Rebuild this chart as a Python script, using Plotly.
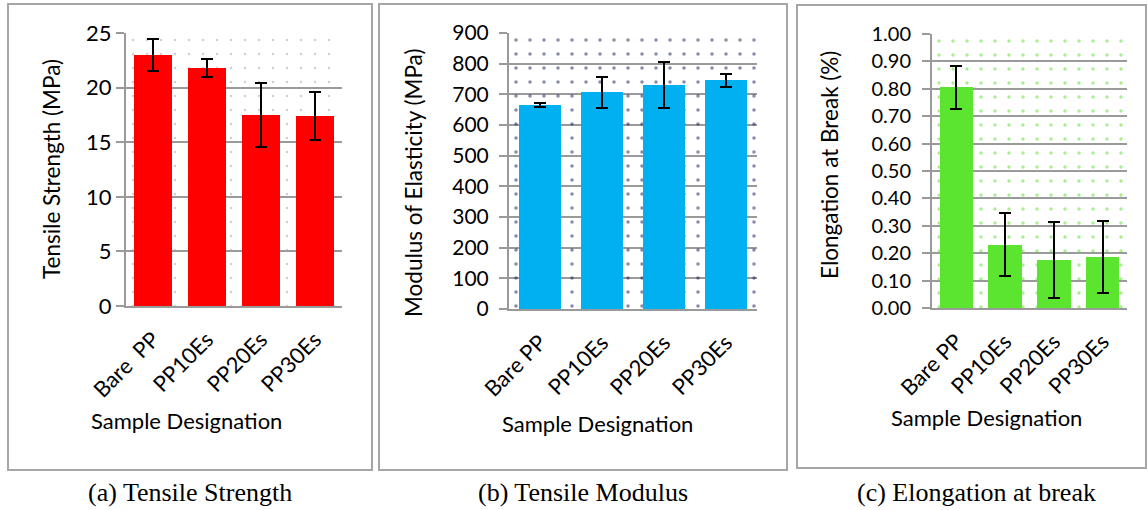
import plotly.graph_objects as go

W, H = 1147, 510

categories = ["Bare  PP", "PP10Es", "PP20Es", "PP30Es"]
categories_b = ["Bare PP", "PP10Es", "PP20Es", "PP30Es"]

tensile_strength = [23.0, 21.8, 17.5, 17.4]
tensile_strength_err = [1.45, 0.8, 2.9, 2.2]

modulus = [665, 707, 730, 746]
modulus_err = [6, 50, 76, 21]

elongation = [0.805, 0.230, 0.176, 0.186]
elongation_err = [0.080, 0.115, 0.138, 0.132]

y_max = [25, 900, 1.0]
y_dtick = [5, 100, 0.1]
y_titles = ["Tensile Strength (MPa)", "Modulus of Elasticity (MPa)", "Elongation at Break (%)"]
x_title = "Sample Designation"
captions = ["(a) Tensile Strength", "(b) Tensile Modulus", "(c) Elongation at break"]

bar_colors = ["#FF0000", "#00B0F0", "#5BE52F"]
dot_colors = ["#A0A0A0", "#0A1650", "#4FE01F"]
dot_solidity = [0.025, 0.05, 0.045]

def px_x(v):
    return v / W

def px_y(v):
    return 1 - v / H

plot_boxes = [  # left, right, top, bottom (pixels)
    (126, 342, 33, 306),
    (509, 757, 33, 309),
    (932, 1127, 34, 308),
]
panel_boxes = [
    (8, 372, 4, 470),
    (379, 787, 4, 470),
    (797, 1146, 5, 468),
]
caption_x = [190, 583, 976]
xtitle_pos = [(186, 420), (597, 423), (986, 417)]
ytitle_pos = [(52, 169), (413, 183), (830, 165)]
ytick_size = [22, 21, 20]
ytick_standoff = [0, 6, 7]

series = [
    (categories, tensile_strength, tensile_strength_err, ".0f"),
    (categories_b, modulus, modulus_err, ".0f"),
    (categories_b, elongation, elongation_err, ".2f"),
]

fig = go.Figure()
GRID = "#9A9A9A"
FONT = "Lato"

for i, (cats, vals, errs, fmt) in enumerate(series):
    n = len(cats)
    xa = "x" if i == 0 else f"x{i+1}"
    ya = "y" if i == 0 else f"y{i+1}"
    fig.add_trace(go.Bar(
        x=[(n - 1) / 2], y=[y_max[i]], width=[n],
        xaxis=xa, yaxis=ya,
        marker=dict(color="rgba(0,0,0,0)", line=dict(width=0),
                    pattern=dict(shape=".", fgcolor=dot_colors[i], bgcolor="rgba(0,0,0,0)",
                                 size=14, solidity=dot_solidity[i], fillmode="overlay")),
        hoverinfo="skip", showlegend=False,
    ))
    fig.add_trace(go.Bar(
        x=list(range(n)), y=vals, width=0.69,
        xaxis=xa, yaxis=ya,
        marker=dict(color=bar_colors[i], line=dict(width=0)),
        error_y=dict(type="data", array=errs, visible=True, color="black", thickness=2, width=6),
        showlegend=False,
    ))
    l, r, t, b = plot_boxes[i]
    suffix = "" if i == 0 else str(i + 1)
    fig.layout["xaxis" + suffix] = dict(
        domain=[px_x(l), px_x(r)], anchor=ya, range=[-0.5, n - 0.5], automargin=False,
        tickmode="array", tickvals=list(range(n)), ticktext=cats, tickangle=-45,
        ticklabelstandoff=10,
        showgrid=False, showline=True, linecolor=GRID, linewidth=2, ticks="",
        tickfont=dict(family=FONT, size=22, color="black"),
        fixedrange=True,
    )
    fig.layout["yaxis" + suffix] = dict(
        domain=[px_y(b), px_y(t)], anchor=xa, range=[0, y_max[i]], dtick=y_dtick[i],
        automargin=False, ticklabelstandoff=ytick_standoff[i],
        tickformat=fmt, showgrid=True, gridcolor=GRID, gridwidth=2,
        showline=True, linecolor=GRID, linewidth=2, ticks="outside", ticklen=8,
        tickcolor=GRID, tickwidth=2, zeroline=False,
        tickfont=dict(family=FONT, size=ytick_size[i], color="black"),
        fixedrange=True,
    )
    fig.add_annotation(text=x_title, xref="paper", yref="paper",
                       x=px_x(xtitle_pos[i][0]), y=px_y(xtitle_pos[i][1]), showarrow=False,
                       xanchor="center", yanchor="middle",
                       font=dict(family=FONT, size=22, color="black"))
    fig.add_annotation(text=y_titles[i], xref="paper", yref="paper", textangle=-90,
                       x=px_x(ytitle_pos[i][0]), y=px_y(ytitle_pos[i][1]), showarrow=False,
                       xanchor="center", yanchor="middle",
                       font=dict(family=FONT, size=22.5, color="black"))
    pl, pr, pt, pb = panel_boxes[i]
    fig.add_shape(type="rect", xref="paper", yref="paper",
                  x0=px_x(pl), x1=px_x(pr), y0=px_y(pb), y1=px_y(pt),
                  line=dict(color="#A6A6A6", width=2), layer="below")
    fig.add_annotation(text=captions[i], xref="paper", yref="paper",
                       x=px_x(caption_x[i]), y=px_y(492), showarrow=False,
                       xanchor="center", yanchor="middle",
                       font=dict(family="Liberation Serif", size=26, color="black"))

fig.update_layout(
    width=W, height=H, margin=dict(l=0, r=0, t=0, b=0),
    paper_bgcolor="white", plot_bgcolor="white",
    barmode="overlay", bargap=0, showlegend=False,
)

fig.write_html("out.html", config={"displayModeBar": False})
